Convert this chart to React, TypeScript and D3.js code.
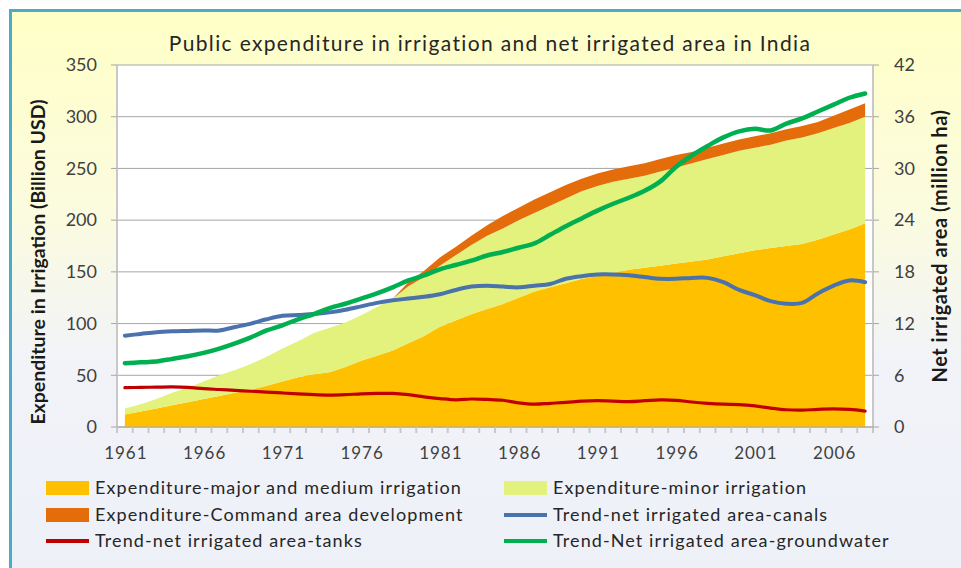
import React from "react";
import * as d3 from "d3";

const years: number[] = d3.range(1961, 2009);

const majorMedium = [12, 15, 18, 21, 24, 27, 30, 33, 36, 40, 44, 48, 51, 53, 58, 64, 69, 74, 81, 88, 97, 103, 109, 114, 119, 125, 131, 135, 139, 143, 146, 149, 152, 154, 156, 158, 160, 162, 165, 168, 171, 173, 175, 177, 181, 186, 191, 197];
const minorIrr = [6, 7, 9, 12, 14, 17, 20, 22, 25, 28, 32, 35, 40, 43, 43, 44, 47, 50, 55, 57, 59, 63, 67, 71, 73, 75, 76, 79, 82, 85, 87, 88, 88, 89, 91, 93, 95, 97, 98, 99, 99, 100, 102, 103, 103, 103, 103, 103];
const commandArea = [0, 0, 0, 0, 0, 0, 0, 0, 0, 0, 0, 0, 0, 0, 0, 0, 0, 0, 4, 6, 8, 8, 9, 10, 12, 12, 13, 13, 13, 12, 12, 12, 12, 12, 12, 12, 11, 11, 11, 11, 11, 11, 11, 11, 11, 12, 13, 13];

const canals = [10.6, 10.8, 11.0, 11.1, 11.15, 11.2, 11.2, 11.6, 12.0, 12.5, 12.9, 13.0, 13.1, 13.3, 13.6, 14.0, 14.4, 14.7, 14.9, 15.1, 15.4, 15.9, 16.3, 16.4, 16.3, 16.2, 16.4, 16.6, 17.2, 17.5, 17.7, 17.7, 17.6, 17.4, 17.2, 17.2, 17.3, 17.3, 16.8, 15.9, 15.3, 14.6, 14.3, 14.4, 15.5, 16.4, 17.0, 16.8];
const groundwater = [7.4, 7.5, 7.6, 7.9, 8.2, 8.6, 9.1, 9.7, 10.4, 11.2, 11.8, 12.5, 13.1, 13.8, 14.3, 14.9, 15.5, 16.2, 17.0, 17.6, 18.3, 18.8, 19.3, 19.9, 20.3, 20.8, 21.3, 22.3, 23.3, 24.2, 25.1, 25.9, 26.6, 27.4, 28.5, 30.2, 31.5, 32.6, 33.6, 34.3, 34.6, 34.4, 35.2, 35.8, 36.6, 37.4, 38.2, 38.7];
const tanks = [4.56, 4.6, 4.62, 4.65, 4.6, 4.45, 4.35, 4.25, 4.15, 4.05, 3.95, 3.85, 3.75, 3.7, 3.75, 3.85, 3.9, 3.9, 3.75, 3.5, 3.3, 3.15, 3.25, 3.2, 3.1, 2.8, 2.65, 2.75, 2.85, 3.0, 3.05, 3.0, 2.95, 3.05, 3.15, 3.1, 2.9, 2.75, 2.65, 2.6, 2.45, 2.2, 2.0, 1.95, 2.05, 2.1, 2.05, 1.85];

const leftTicks = [0, 50, 100, 150, 200, 250, 300, 350];
const rightTicks = [0, 6, 12, 18, 24, 30, 36, 42];
const yearLabels = [1961, 1966, 1971, 1976, 1981, 1986, 1991, 1996, 2001, 2006];

const titleText = "Public expenditure in irrigation and net irrigated area in India";
const leftTitle = "Expenditure in Irrigation (Billion USD)";
const rightTitle = "Net irrigated area (million ha)";

const areaKeys = ["major", "minor", "command"];
const areaNames = ["Expenditure-major and medium irrigation", "Expenditure-minor irrigation", "Expenditure-Command area development"];
const areaColors = ["#FFC000", "#E2F27C", "#E46C0A"];
const lineNames = ["Trend-net irrigated area-canals", "Trend-net irrigated area-tanks", "Trend-Net irrigated area-groundwater"];
const lineColors = ["#4A72AC", "#C00000", "#00B050"];

const FONT = "Lato, 'Open Sans', sans-serif";

export default function App() {
  const W = 961, H = 568;
  const L = 117, R = 873, T = 65, B = 427;
  const x = d3.scaleBand<number>().domain(years).range([L, R]).padding(0);
  const bw = x.bandwidth();
  const cx = (y: number) => (x(y) as number) + bw / 2;
  const yL = d3.scaleLinear().domain([0, 350]).range([B, T]);
  const yR = d3.scaleLinear().domain([0, 42]).range([B, T]);

  const table = years.map((yr, i) => ({ year: yr, major: majorMedium[i], minor: minorIrr[i], command: commandArea[i] }));
  const stacked = d3.stack<any>().keys(areaKeys)(table);
  const area = d3.area<any>().x((d) => cx(d.data.year)).y0((d) => yL(d[0])).y1((d) => yL(d[1]));
  const line = d3.line<number>().x((_, i) => cx(years[i])).y((v) => yR(v)).curve(d3.curveCatmullRom.alpha(0.5));
  const lineSeries = [canals, tanks, groundwater];
  const lineWidths = [4, 3.2, 4.5];

  const legend = [
    { name: areaNames[0], kind: "rect", color: areaColors[0], col: 0, row: 0 },
    { name: areaNames[1], kind: "rect", color: areaColors[1], col: 1, row: 0 },
    { name: areaNames[2], kind: "rect", color: areaColors[2], col: 0, row: 1 },
    { name: lineNames[0], kind: "line", color: lineColors[0], col: 1, row: 1 },
    { name: lineNames[1], kind: "line", color: lineColors[1], col: 0, row: 2 },
    { name: lineNames[2], kind: "line", color: lineColors[2], col: 1, row: 2 },
  ];
  const colX = [46, 504];
  const rowY = [488, 515, 541];

  return (
    <svg width={W} height={H} style={{ position: "absolute", left: 0, top: 0, fontFamily: FONT }}>
      <defs>
        <linearGradient id="bg" x1="0" y1="0" x2="0" y2="1">
          <stop offset="0" stopColor="#FFFFC6" />
          <stop offset="0.35" stopColor="#FBFBE0" />
          <stop offset="0.6" stopColor="#F1F3F8" />
          <stop offset="1" stopColor="#EEF0F8" />
        </linearGradient>
      </defs>
      <rect x={0} y={0} width={W} height={H} fill="#ffffff" />
      <rect x={10.5} y={10.5} width={W + 20} height={H + 20} fill="url(#bg)" stroke="#4BACC6" strokeWidth={3} />
      <rect x={L} y={T} width={R - L} height={B - T} fill="#ffffff" />
      {leftTicks.map((t) => (
        <line key={"g" + t} x1={L} x2={R} y1={yL(t)} y2={yL(t)} stroke="#A6A6A6" strokeWidth={1} />
      ))}
      {stacked.map((s, i) => (
        <path key={"a" + i} d={area(s as any) as string} fill={areaColors[i]} />
      ))}
      {lineSeries.map((s, i) => (
        <path key={"l" + i} d={line(s) as string} fill="none" stroke={lineColors[i]} strokeWidth={lineWidths[i]} strokeLinecap="round" />
      ))}
      <line x1={L} x2={L} y1={T} y2={B + 6} stroke="#C8C8C8" strokeWidth={2} />
      <line x1={R} x2={R} y1={T} y2={B + 6} stroke="#C8C8C8" strokeWidth={2} />
      <line x1={L} x2={R} y1={B} y2={B} stroke="#A6A6A6" strokeWidth={1} />
      {leftTicks.map((t) => (
        <g key={"lt" + t}>
          <line x1={L - 6} x2={L} y1={yL(t)} y2={yL(t)} stroke="#A6A6A6" />
          <text x={97} y={yL(t)} dy="0.35em" textAnchor="end" fontSize={18} fill="#404040">{t}</text>
        </g>
      ))}
      {rightTicks.map((t) => (
        <g key={"rt" + t}>
          <line x1={R} x2={R + 6} y1={yR(t)} y2={yR(t)} stroke="#A6A6A6" />
          <text x={894} y={yR(t)} dy="0.35em" textAnchor="start" fontSize={18} fill="#404040">{t}</text>
        </g>
      ))}
      {years.map((yr) => (
        <line key={"xt" + yr} x1={x(yr) as number} x2={x(yr) as number} y1={B} y2={B + 6} stroke="#C8C8C8" strokeWidth={2} />
      ))}
      {yearLabels.map((yr) => (
        <text key={"yl" + yr} x={cx(yr) + 1} y={459} textAnchor="middle" fontSize={17} letterSpacing={1} fill="#404040">{yr}</text>
      ))}
      <text x={490} y={51} textAnchor="middle" fontSize={21} letterSpacing={1.35} fill="#262626">{titleText}</text>
      <text transform={`translate(45,262) rotate(-90)`} textAnchor="middle" fontSize={19.5} fontWeight="bold" fill="#1a1a1a">{leftTitle}</text>
      <text transform={`translate(947,246) rotate(-90)`} textAnchor="middle" fontSize={20} letterSpacing={0.5} fontWeight="bold" fill="#1a1a1a">{rightTitle}</text>
      {legend.map((it, i) => {
        const lx = colX[it.col];
        const ly = rowY[it.row];
        return (
          <g key={"lg" + i}>
            {it.kind === "rect" ? (
              <rect x={lx} y={ly - 7} width={43} height={14} fill={it.color} />
            ) : (
              <line x1={lx} x2={lx + 43} y1={ly} y2={ly} stroke={it.color} strokeWidth={4} />
            )}
            <text x={lx + 49} y={ly} dy="0.35em" fontSize={18} letterSpacing={1.1} fill="#262626">{it.name}</text>
          </g>
        );
      })}
    </svg>
  );
}
